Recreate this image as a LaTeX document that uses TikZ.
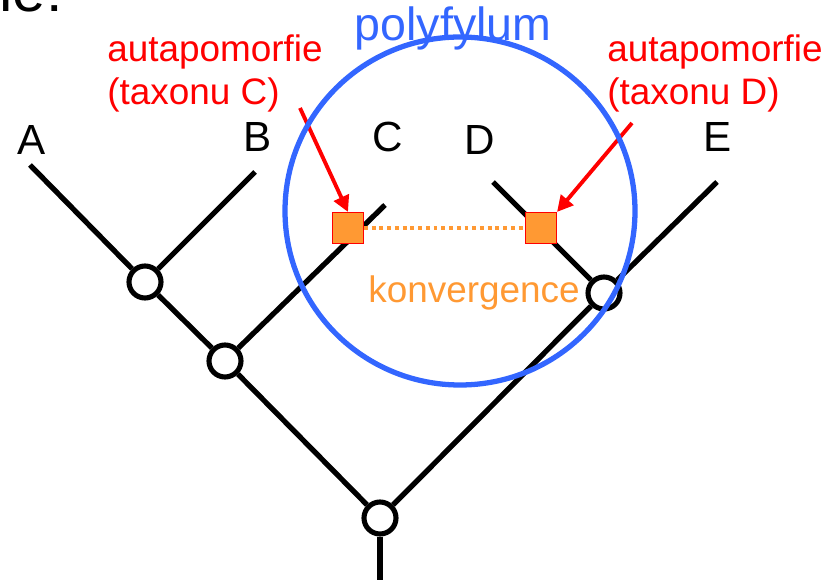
\documentclass[tikz,border=0pt]{standalone}
\usepackage{fontspec}
\setmainfont{Liberation Sans}
\usetikzlibrary{arrows.meta}
\pgfdeclarelayer{background}
\pgfdeclarelayer{foreground}
\pgfsetlayers{background,main,foreground}
\definecolor{oranz}{RGB}{255,153,51}
\definecolor{modra}{RGB}{51,102,255}
\tikzset{
  vetev/.style={line width=3pt},
  uzel/.style={circle,draw,line width=2.9pt,fill=white,minimum size=0.64cm,inner sep=0pt},
  znak/.style={draw=red,fill=oranz,line width=0.6pt,minimum size=0.62cm,inner sep=0pt},
  taxon/.style={font=\fontsize{24}{28}\selectfont,inner sep=0pt},
  popis/.style={text=red,align=left,anchor=west,font=\fontsize{21}{24.5}\selectfont,inner sep=0pt},
  sipka/.style={red,line width=2.2pt,-{Triangle[length=0.32cm,width=0.32cm]}}
}

\begin{document}
\begin{tikzpicture}[x=0.02cm,y=-0.02cm]
\useasboundingbox (0,0) rectangle (828,580);
% cut title
\node[anchor=base east,inner sep=0pt,font=\fontsize{34}{40}\selectfont] (titul) at (63,12) {ne!};
% nodes of the tree
\node[uzel] (koren) at (380,518) {};
\node[uzel] (uAC) at (225,361) {};
\node[uzel] (uAB) at (145,282) {};
\node[uzel] (uDE) at (604,293) {};
\coordinate (dole) at (380,580);
\coordinate (tA) at (30,165);
\coordinate (tB) at (255,172);
\coordinate (tC) at (385,205);
\coordinate (tD) at (493,182);
\coordinate (tE) at (717,182);
% taxa
\node[taxon] (A) at (32,140) {A};
\node[taxon] (B) at (258,137) {B};
\node[taxon] (C) at (388,137) {C};
\node[taxon] (D) at (480,140) {D};
\node[taxon] (E) at (718,137) {E};
% characters
\node[znak] (zC) at (348,228) {};
\node[znak] (zD) at (541,228) {};
\node[popis] (autC) at (107,73) {autapomorfie\\(taxonu C)};
\node[popis] (autD) at (607,73) {autapomorfie\\(taxonu D)};
\node[text=oranz,inner sep=0pt,font=\fontsize{21}{24}\selectfont] (konv) at (474,293) {konvergence};
\node[text=modra,inner sep=0pt,font=\fontsize{26.5}{30}\selectfont] (poly) at (453,28) {polyfylum};
\coordinate (sC) at (300,108);
\coordinate (sD) at (632,123);
\begin{pgfonlayer}{background}
\draw[vetev] (dole) -- (koren);
\draw[vetev] (koren) -- (uAC) -- (uAB) -- (tA);
\draw[vetev] (uAB) -- (tB);
\draw[vetev] (uAC) -- (tC);
\draw[vetev] (koren) -- (uDE) -- (tE);
\draw[vetev] (uDE) -- (tD);
\end{pgfonlayer}
\draw[oranz,line width=2pt,dash pattern=on 2.2pt off 2.2pt] (zC) -- (zD);
\draw[sipka] (sC) -- (zC.north);
\draw[sipka] (sD) -- (zD.north east);
\begin{pgfonlayer}{foreground}
\draw[modra,line width=3pt] (460,211) ellipse (175 and 174);
\end{pgfonlayer}
\end{tikzpicture}
\end{document}
